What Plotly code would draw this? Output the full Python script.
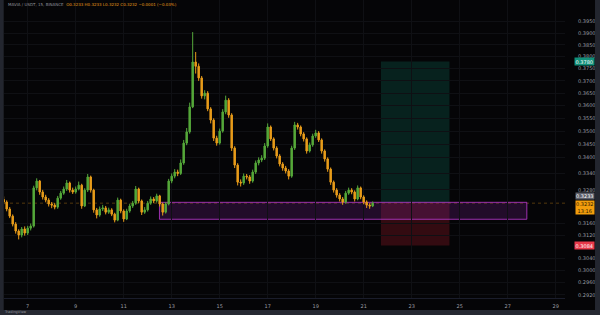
import math
import plotly.graph_objects as go

# ---- data (3-hour candles) ----
start_day = 6.0
step_day = 0.125
opens = [0.3245, 0.3236, 0.3211, 0.3186, 0.3158, 0.3134, 0.3120, 0.3141, 0.3127, 0.3144,
         0.3151, 0.3287, 0.3312, 0.3272, 0.3254, 0.3243, 0.3229, 0.3225, 0.3218, 0.3250,
         0.3268, 0.3283, 0.3305, 0.3279, 0.3272, 0.3283, 0.3297, 0.3222, 0.3279, 0.3327,
         0.3279, 0.3208, 0.3190, 0.3211, 0.3215, 0.3200, 0.3208, 0.3193, 0.3172, 0.3243,
         0.3204, 0.3176, 0.3204, 0.3222, 0.3232, 0.3283, 0.3240, 0.3200, 0.3208, 0.3232,
         0.3247, 0.3240, 0.3258, 0.3229, 0.3200, 0.3229, 0.3312, 0.3330, 0.3345, 0.3340,
         0.3379, 0.3454, 0.3497, 0.3595, 0.3778, 0.3760, 0.3712, 0.3639, 0.3650, 0.3587,
         0.3543, 0.3473, 0.3454, 0.3500, 0.3575, 0.3622, 0.3563, 0.3435, 0.3371, 0.3308,
         0.3305, 0.3330, 0.3327, 0.3312, 0.3345, 0.3379, 0.3390, 0.3397, 0.3443, 0.3516,
         0.3470, 0.3435, 0.3405, 0.3375, 0.3360, 0.3349, 0.3330, 0.3435, 0.3524, 0.3516,
         0.3489, 0.3470, 0.3424, 0.3447, 0.3481, 0.3493, 0.3466, 0.3424, 0.3394, 0.3356,
         0.3308, 0.3279, 0.3261, 0.3247, 0.3236, 0.3268, 0.3279, 0.3272, 0.3247, 0.3287,
         0.3254, 0.3236, 0.3225, 0.3222]
closes = [0.3236, 0.3211, 0.3186, 0.3158, 0.3134, 0.3120, 0.3141, 0.3127, 0.3144, 0.3151,
          0.3287, 0.3312, 0.3272, 0.3254, 0.3243, 0.3229, 0.3225, 0.3218, 0.3250, 0.3268,
          0.3283, 0.3305, 0.3279, 0.3272, 0.3283, 0.3297, 0.3222, 0.3279, 0.3327, 0.3279,
          0.3208, 0.3190, 0.3211, 0.3215, 0.3200, 0.3208, 0.3193, 0.3172, 0.3243, 0.3204,
          0.3176, 0.3204, 0.3222, 0.3232, 0.3283, 0.3240, 0.3200, 0.3208, 0.3232, 0.3247,
          0.3240, 0.3258, 0.3229, 0.3200, 0.3229, 0.3312, 0.3330, 0.3345, 0.3340, 0.3379,
          0.3454, 0.3497, 0.3595, 0.3778, 0.3760, 0.3712, 0.3639, 0.3650, 0.3587, 0.3543,
          0.3473, 0.3454, 0.3500, 0.3575, 0.3622, 0.3563, 0.3435, 0.3371, 0.3308, 0.3305,
          0.3330, 0.3327, 0.3312, 0.3345, 0.3379, 0.3390, 0.3397, 0.3443, 0.3516, 0.3470,
          0.3435, 0.3405, 0.3375, 0.3360, 0.3349, 0.3330, 0.3435, 0.3524, 0.3516, 0.3489,
          0.3470, 0.3424, 0.3447, 0.3481, 0.3493, 0.3466, 0.3424, 0.3394, 0.3356, 0.3308,
          0.3279, 0.3261, 0.3247, 0.3236, 0.3268, 0.3279, 0.3272, 0.3247, 0.3287, 0.3254,
          0.3236, 0.3225, 0.3222, 0.3232]
highs = [0.3256, 0.3242, 0.3218, 0.3192, 0.3165, 0.3140, 0.3148, 0.3150, 0.3152, 0.3160,
         0.3295, 0.3322, 0.3316, 0.3280, 0.3262, 0.3250, 0.3236, 0.3232, 0.3258, 0.3276,
         0.3292, 0.3316, 0.3310, 0.3288, 0.3292, 0.3310, 0.3302, 0.3286, 0.3338, 0.3332,
         0.3284, 0.3215, 0.3220, 0.3226, 0.3222, 0.3216, 0.3214, 0.3198, 0.3252, 0.3248,
         0.3210, 0.3212, 0.3230, 0.3240, 0.3294, 0.3288, 0.3245, 0.3218, 0.3240, 0.3256,
         0.3254, 0.3266, 0.3262, 0.3234, 0.3236, 0.3320, 0.3340, 0.3356, 0.3354, 0.3392,
         0.3466, 0.3512, 0.3612, 0.3905, 0.3820, 0.3772, 0.3720, 0.3662, 0.3658, 0.3594,
         0.3550, 0.3482, 0.3510, 0.3586, 0.3640, 0.3630, 0.3570, 0.3442, 0.3378, 0.3318,
         0.3340, 0.3338, 0.3334, 0.3354, 0.3388, 0.3400, 0.3408, 0.3454, 0.3530, 0.3522,
         0.3476, 0.3442, 0.3412, 0.3382, 0.3368, 0.3356, 0.3444, 0.3536, 0.3532, 0.3522,
         0.3496, 0.3476, 0.3456, 0.3490, 0.3505, 0.3500, 0.3472, 0.3430, 0.3400, 0.3362,
         0.3314, 0.3286, 0.3268, 0.3254, 0.3276, 0.3288, 0.3286, 0.3278, 0.3296, 0.3292,
         0.3260, 0.3242, 0.3232, 0.3238]
lows = [0.3228, 0.3203, 0.3179, 0.3150, 0.3125, 0.3105, 0.3112, 0.3118, 0.3120, 0.3136,
        0.3146, 0.3278, 0.3262, 0.3245, 0.3235, 0.3220, 0.3214, 0.3210, 0.3212, 0.3244,
        0.3262, 0.3276, 0.3270, 0.3265, 0.3266, 0.3278, 0.3212, 0.3218, 0.3272, 0.3270,
        0.3198, 0.3178, 0.3184, 0.3204, 0.3192, 0.3194, 0.3186, 0.3164, 0.3168, 0.3196,
        0.3166, 0.3172, 0.3198, 0.3215, 0.3226, 0.3232, 0.3190, 0.3194, 0.3202, 0.3226,
        0.3232, 0.3234, 0.3220, 0.3188, 0.3195, 0.3224, 0.3304, 0.3322, 0.3330, 0.3334,
        0.3372, 0.3446, 0.3490, 0.3590, 0.3730, 0.3700, 0.3628, 0.3625, 0.3578, 0.3530,
        0.3462, 0.3444, 0.3448, 0.3494, 0.3566, 0.3552, 0.3424, 0.3360, 0.3296, 0.3292,
        0.3298, 0.3318, 0.3302, 0.3306, 0.3338, 0.3370, 0.3382, 0.3390, 0.3436, 0.3462,
        0.3426, 0.3396, 0.3366, 0.3350, 0.3340, 0.3318, 0.3324, 0.3428, 0.3506, 0.3480,
        0.3460, 0.3414, 0.3418, 0.3440, 0.3474, 0.3458, 0.3414, 0.3384, 0.3346, 0.3298,
        0.3270, 0.3252, 0.3238, 0.3226, 0.3230, 0.3262, 0.3264, 0.3238, 0.3242, 0.3246,
        0.3228, 0.3215, 0.3212, 0.3218]
days = [start_day + step_day * k for k in range(len(closes))]

x_tick_days = [7, 9, 11, 13, 15, 17, 19, 21, 23, 25, 27, 29]
# ticks hidden under the price labels in the reference (0.3220, 0.3080) are left out
y_tick_prices = [0.3950, 0.3900, 0.3850, 0.3800, 0.3750, 0.3700, 0.3650, 0.3600, 0.3550,
                 0.3500, 0.3450, 0.3400, 0.3340, 0.3280, 0.3160, 0.3120,
                 0.3040, 0.3000, 0.2960, 0.2920]

zone_start, zone_end = 12.49, 27.80
zone_low, zone_high = 0.3175, 0.3235
pos_start, pos_end = 21.72, 24.575
entry_price = 0.3233
target_price = 0.3780
stop_price = 0.3084
last_price = 0.3232
countdown = "13:16"
header_name = "MAVIA / USDT, 15, BINANCE"
header_ohlc = "O0.3233 H0.3233 L0.3232 C0.3232 −0.0001 (−0.03%)"

# ---- figure ----
UP = "#55a83a"
DOWN = "#e89c1a"
GRID = "#0f1014"
AXTXT = "#9a9ca3"
FONT = "DejaVu Sans"

fig = go.Figure()
fig.add_trace(go.Candlestick(
    x=days, open=opens, high=highs, low=lows, close=closes,
    increasing=dict(line=dict(color=UP, width=1), fillcolor=UP),
    decreasing=dict(line=dict(color=DOWN, width=1), fillcolor=DOWN),
    whiskerwidth=0, showlegend=False, hoverinfo="skip",
))

shapes = []
# long-position tool: target (green) and stop (red)
shapes.append(dict(type="rect", xref="x", yref="y", x0=pos_start, x1=pos_end,
                   y0=entry_price, y1=target_price, line=dict(width=0),
                   fillcolor="rgba(14,110,90,0.28)", layer="below"))
shapes.append(dict(type="rect", xref="x", yref="y", x0=pos_start, x1=pos_end,
                   y0=stop_price, y1=entry_price, line=dict(width=0),
                   fillcolor="rgba(150,25,40,0.32)", layer="below"))
# purple demand zone
shapes.append(dict(type="rect", xref="x", yref="y", x0=zone_start, x1=zone_end,
                   y0=zone_low, y1=zone_high,
                   line=dict(color="rgba(180,55,200,0.85)", width=1),
                   fillcolor="rgba(140,40,170,0.22)", layer="below"))
# last price dotted line
shapes.append(dict(type="line", xref="paper", yref="y", x0=0, x1=1,
                   y0=last_price, y1=last_price,
                   line=dict(color="rgba(232,156,26,0.35)", width=1, dash="dot"),
                   layer="below"))
# frame strips
shapes.append(dict(type="rect", xref="paper", yref="paper", x0=-0.0075, x1=-0.0005,
                   y0=-0.2, y1=1.02, line=dict(width=0), fillcolor="#23262f"))
shapes.append(dict(type="rect", xref="paper", yref="paper", x0=1.0535, x1=1.07,
                   y0=-0.2, y1=1.02, line=dict(width=0), fillcolor="#23262f"))
shapes.append(dict(type="rect", xref="paper", yref="paper", x0=-0.01, x1=1.07,
                   y0=-0.08, y1=-0.0405, line=dict(width=0), fillcolor="#262932"))

LX = 1.0355
annotations = [
    # annotations on a log axis take log10 positions
    dict(xref="paper", yref="y", x=LX, y=math.log10(target_price), text=f"{target_price:.4f}",
         showarrow=False, xanchor="center", yanchor="middle",
         font=dict(family=FONT, size=5, color="#ffffff"), bgcolor="#11907a", borderpad=0.5),
    dict(xref="paper", yref="paper", x=LX, y=(298 - 199.5) / 298, text=f"{entry_price:.4f}",
         showarrow=False, xanchor="center", yanchor="bottom",
         font=dict(family=FONT, size=5, color="#ffffff"), bgcolor="#5d606b", borderpad=0),
    dict(xref="paper", yref="paper", x=LX, y=(298 - 200) / 298,
         text=f"{last_price:.4f}<br>{countdown}",
         showarrow=False, xanchor="center", yanchor="top",
         font=dict(family=FONT, size=5, color="#2a1a00"), bgcolor="#f29d0c", borderpad=0),
    dict(xref="paper", yref="y", x=LX, y=math.log10(stop_price), text=f"{stop_price:.4f}",
         showarrow=False, xanchor="center", yanchor="middle",
         font=dict(family=FONT, size=5, color="#ffffff"), bgcolor="#e8394a", borderpad=0.5),
    dict(xref="paper", yref="paper", x=0.004, y=1.0, xanchor="left", yanchor="top",
         text=f"<span style='color:#8e9098'>{header_name}</span>  "
              f"<span style='color:#e89c1a'>{header_ohlc}</span>",
         showarrow=False, font=dict(family=FONT, size=4)),
    dict(xref="paper", yref="paper", x=-0.004, y=(298 - 311.5) / 298, xanchor="left",
         yanchor="middle", text="TradingView", showarrow=False,
         font=dict(family=FONT, size=3.5, color="#8e9098")),
]

fig.update_layout(
    width=600, height=315,
    margin=dict(l=4, r=35, t=0, b=17),
    paper_bgcolor="#050507", plot_bgcolor="#050507",
    shapes=shapes, annotations=annotations,
    xaxis=dict(
        type="linear", range=[6.0125, 29.39],
        tickvals=x_tick_days, ticktext=[str(d) for d in x_tick_days],
        tickfont=dict(family=FONT, size=5, color=AXTXT),
        showgrid=True, gridcolor=GRID, gridwidth=1, zeroline=False,
        showline=True, linecolor="#1a1d2b", linewidth=1,
        ticks="outside", ticklen=3, tickcolor="rgba(0,0,0,0)",
        rangeslider=dict(visible=False), fixedrange=True,
    ),
    yaxis=dict(
        type="log", side="right",
        range=[-0.53607, -0.39297],
        tickvals=y_tick_prices, ticktext=[f"{p:.4f}" for p in y_tick_prices],
        tickfont=dict(family=FONT, size=5, color=AXTXT),
        showgrid=True, gridcolor=GRID, gridwidth=1, zeroline=False,
        showline=False, ticks="", ticklabelstandoff=12, fixedrange=True,
    ),
)

fig.write_html("out.html")
